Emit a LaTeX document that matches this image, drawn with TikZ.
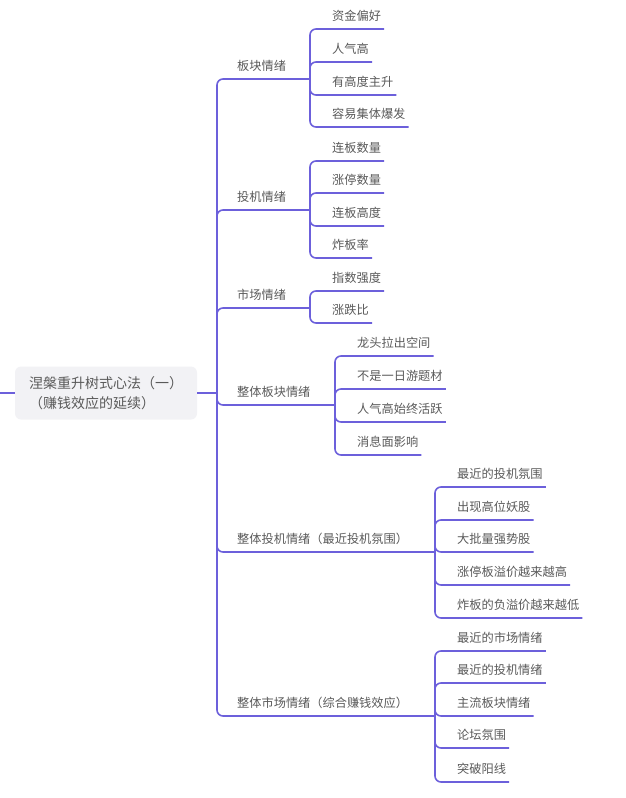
\documentclass[tikz,border=0pt]{standalone}
\usepackage{fontspec}
\setmainfont{Noto Sans CJK SC}
\definecolor{conn}{HTML}{6C60DB}
\definecolor{txt}{HTML}{595959}
\definecolor{rootfill}{HTML}{F2F2F5}
\begin{document}
\begin{tikzpicture}[x=1pt,y=-1pt,
  link/.style={draw=conn, line width=1.6pt, rounded corners=6pt},
  lbl/.style={font=\fontsize{12.2}{14}\selectfont, text=txt, inner xsep=3pt, inner ysep=6.5pt, text depth=2pt, text height=9pt, anchor=south west},
  rootbox/.style={fill=rootfill, rounded corners=6pt, text=txt, font=\fontsize{14}{20}\selectfont, align=left, text width=154pt, inner xsep=14pt, inner ysep=0pt, minimum height=53pt}]
\useasboundingbox (0,0) rectangle (625,798);

% root
\node[rootbox] (root) at (106,393) {涅槃重升树式心法（一）\\（赚钱效应的延续）};
\coordinate (L) at (0,393);
\coordinate (T) at (217,393);
\draw[link] (L) -- (root.west);
\draw[link] (root.east) -- (T);

% level-1 branches
\node[lbl] (b1) at (234,79) {板块情绪};
\node[lbl] (b2) at (234,210) {投机情绪};
\node[lbl] (b3) at (234,308) {市场情绪};
\node[lbl] (b4) at (234,405) {整体板块情绪};
\node[lbl] (b5) at (234,552) {整体投机情绪（最近投机氛围）};
\node[lbl] (b6) at (234,716) {整体市场情绪（综合赚钱效应）};

\coordinate (k1) at (310,79);
\coordinate (k2) at (310,210);
\coordinate (k3) at (310,308);
\coordinate (k4) at (335,405);
\coordinate (k5) at (435,552);
\coordinate (k6) at (435,716);

\foreach \i in {1,...,6} {
  \draw[link] (T) |- (b\i.south west) -- (k\i);
}

% children of b1
\node[lbl] (c11) at (329,29) {资金偏好};
\node[lbl] (c12) at (329,62) {人气高};
\node[lbl] (c13) at (329,95) {有高度主升};
\node[lbl] (c14) at (329,127) {容易集体爆发};
% children of b2
\node[lbl] (c21) at (329,161) {连板数量};
\node[lbl] (c22) at (329,193) {涨停数量};
\node[lbl] (c23) at (329,226) {连板高度};
\node[lbl] (c24) at (329,258) {炸板率};
% children of b3
\node[lbl] (c31) at (329,291) {指数强度};
\node[lbl] (c32) at (329,323) {涨跌比};
% children of b4
\node[lbl] (c41) at (354,356) {龙头拉出空间};
\node[lbl] (c42) at (354,389) {不是一日游题材};
\node[lbl] (c43) at (354,422) {人气高始终活跃};
\node[lbl] (c44) at (354,455) {消息面影响};
% children of b5
\node[lbl] (c51) at (454,487) {最近的投机氛围};
\node[lbl] (c52) at (454,520) {出现高位妖股};
\node[lbl] (c53) at (454,552) {大批量强势股};
\node[lbl] (c54) at (454,585) {涨停板溢价越来越高};
\node[lbl] (c55) at (454,618) {炸板的负溢价越来越低};
% children of b6
\node[lbl] (c61) at (454,651) {最近的市场情绪};
\node[lbl] (c62) at (454,683) {最近的投机情绪};
\node[lbl] (c63) at (454,716) {主流板块情绪};
\node[lbl] (c64) at (454,748) {论坛氛围};
\node[lbl] (c65) at (454,782) {突破阳线};

\foreach \c in {c11,c12,c13,c14} \draw[link] (k1) |- (\c.south east);
\foreach \c in {c21,c22,c23,c24} \draw[link] (k2) |- (\c.south east);
\foreach \c in {c31,c32} \draw[link] (k3) |- (\c.south east);
\foreach \c in {c41,c42,c43,c44} \draw[link] (k4) |- (\c.south east);
\foreach \c in {c51,c52,c53,c54,c55} \draw[link] (k5) |- (\c.south east);
\foreach \c in {c61,c62,c63,c64,c65} \draw[link] (k6) |- (\c.south east);
\end{tikzpicture}
\end{document}
